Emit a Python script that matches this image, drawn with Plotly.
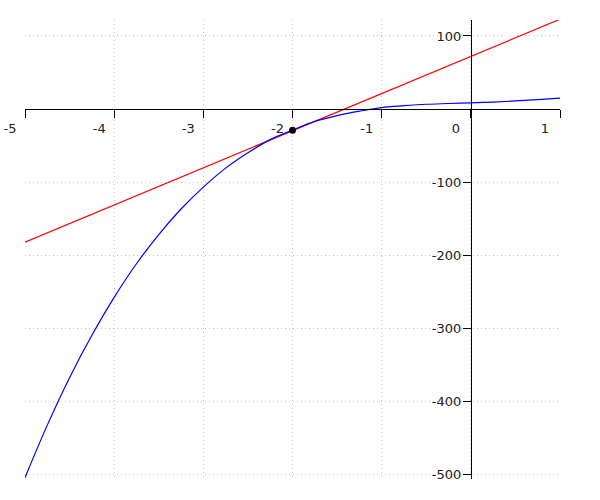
import plotly.graph_objects as go

# Blue curve, values
curve_x = [-5, -4.75, -4.5, -4.25, -4, -3.75, -3.5, -3.25, -3, -2.75, -2.5, -2.25, -2,
           -1.75, -1.5, -1.25, -1, -0.75, -0.5, -0.25, 0, 0.25, 0.5, 0.75, 1]
curve_y = [-505, -433, -368, -310, -258, -212, -172, -137, -107, -81, -60, -42, -29,
           -17, -9, -3, 2, 4.5, 6.5, 7.5, 8.5, 9.5, 11, 12.8, 15]

# Tangent line (red)
tangent_x = [-5, 1]
tangent_y = [-182.5, 123]

# Point of tangency
point_x = [-2]
point_y = [-29]

x_ticks = [-5, -4, -3, -2, -1, 0, 1]
y_ticks = [100, -100, -200, -300, -400, -500]

x_range = [-5, 1]
y_range = [-506.8, 121.9]

fig = go.Figure()
fig.add_trace(go.Scatter(x=tangent_x, y=tangent_y, mode="lines",
                         line=dict(color="red", width=1.2), hoverinfo="skip"))
fig.add_trace(go.Scatter(x=curve_x, y=curve_y, mode="lines",
                         line=dict(color="blue", width=1.2, shape="spline"), hoverinfo="skip"))
fig.add_trace(go.Scatter(x=point_x, y=point_y, mode="markers",
                         marker=dict(color="black", size=7), hoverinfo="skip"))

xpos = (0 - y_range[0]) / (y_range[1] - y_range[0])
ypos = (0 - x_range[0]) / (x_range[1] - x_range[0])

grid_common = dict(showgrid=True, gridcolor="#c8c8c8", griddash="1px,3px", gridwidth=1,
                   zeroline=False, automargin=False,
                   showline=True, linecolor="black", linewidth=1,
                   ticks="outside", ticklen=8, tickcolor="black", tickwidth=1,
                   ticklabeloverflow="allow",
                   tickfont=dict(family="DejaVu Sans", size=13, color="#222222"))

fig.update_layout(
    width=600, height=500,
    margin=dict(l=25, r=40, t=20, b=21),
    paper_bgcolor="white", plot_bgcolor="white",
    showlegend=False,
    font=dict(family="DejaVu Sans", size=13, color="#222222"),
    xaxis=dict(range=x_range, tickmode="array", tickvals=x_ticks,
               ticktext=[str(v) for v in x_ticks],
               anchor="free", position=xpos,
               ticklabelshift=-15, ticklabelstandoff=-1, **grid_common),
    yaxis=dict(range=y_range, tickmode="array", tickvals=y_ticks,
               ticktext=[str(v) for v in y_ticks],
               anchor="free", position=ypos,
               ticklabelstandoff=-1, **grid_common),
)

fig.write_html("out.html",
               config={"displayModeBar": False},
               post_script="document.body.style.margin='0';document.body.style.overflow='hidden';")
